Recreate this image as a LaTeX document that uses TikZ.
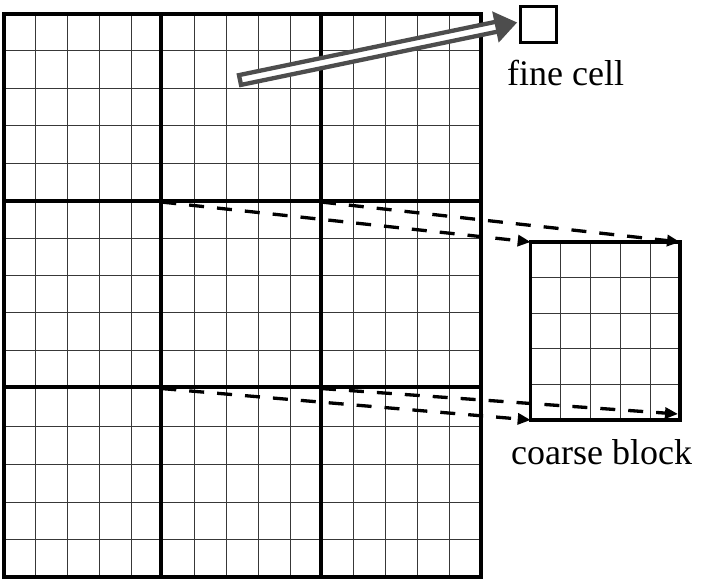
\documentclass[tikz,border=0pt]{standalone}
\usepackage{fontspec}
\setmainfont{Liberation Serif}
\usetikzlibrary{arrows.meta,calc}
\definecolor{arrowgray}{RGB}{77,77,77}
\begin{document}
\begin{tikzpicture}[x=1pt,y=-1pt,
  fine/.style={black!78,line width=1pt},
  coarse/.style={black,line width=3.8pt},
  dasharrow/.style={black,line width=3.3pt,dash pattern=on 15pt off 13pt,-{Triangle[length=13pt,width=11pt]}},
  lbl/.style={inner sep=0pt,anchor=base west,font=\fontsize{36}{40}\selectfont}]
\useasboundingbox (0,0) rectangle (703,581);
% fine grid of the big mesh
\foreach \x in {35.8,67.6,99.3,131.0,194,226,258,290,353.5,385.6,417.6,449.4}
  \draw[fine] (\x,14) -- (\x,576.7);
\foreach \y in {50.7,88.1,125.6,163.3,238.3,275.5,312.8,350.0,426.5,464.3,502,539.3}
  \draw[fine] (4.3,\y) -- (480.7,\y);
% coarse lines
\draw[coarse] (161.3,14) -- (161.3,576.7);
\draw[coarse] (321,14) -- (321,576.7);
\draw[coarse] (4.3,201) -- (480.7,201);
\draw[coarse] (4.3,387.3) -- (480.7,387.3);
\draw[coarse] (4.3,14) rectangle (480.7,576.7);
% coarse block at right
\foreach \x in {560.7,590.7,620.7,650.7}
  \draw[fine] (\x,242) -- (\x,420);
\foreach \y in {277.6,313.2,348.8,384.4}
  \draw[fine] (530.7,\y) -- (680,\y);
\node[draw,line width=3.4pt,minimum width=149.3pt,minimum height=178pt,inner sep=0pt,outer sep=0pt,anchor=north west] (cb) at (530.7,242) {};
\node[lbl] (cbl) at (511,464) {coarse block};
% fine cell
\node[draw,line width=3pt,minimum width=36pt,minimum height=36pt,inner sep=0pt,anchor=north west] (fc) at (519,5) {};
\node[lbl] (fcl) at (507,85) {fine cell};
% outlined arrow to the fine cell
\coordinate (as) at (240,80);
\coordinate (tip) at ($(fc.west)+(-2,-2)$);
\coordinate (ab) at ($(as)!0.922!(tip)$);
\coordinate (ae) at ($(as)!0.94!(tip)$);
\draw[arrowgray,line width=4.3pt,fill=white] ($(as)!5pt!90:(tip)$) -- ($(ae)!5pt!-90:(as)$) -- ($(ae)!5pt!90:(as)$) -- ($(as)!5pt!-90:(tip)$) -- cycle;
\fill[arrowgray] (tip) -- ($(ab)!16pt!90:(tip)$) -- ($(ab)!16pt!-90:(tip)$) -- cycle;
% dashed arrows
\coordinate (d1) at (161.3,202);
\coordinate (d2) at (321,202);
\coordinate (d3) at (161.3,388.5);
\coordinate (d4) at (321,388.5);
\draw[dasharrow] (d1) -- (cb.north west);
\draw[dasharrow] (d2) -- (cb.north east);
\draw[dasharrow] (d3) -- (cb.south west);
\draw[dasharrow] (d4) -- ($(cb.south east)+(-2,-6)$);
\end{tikzpicture}
\end{document}
